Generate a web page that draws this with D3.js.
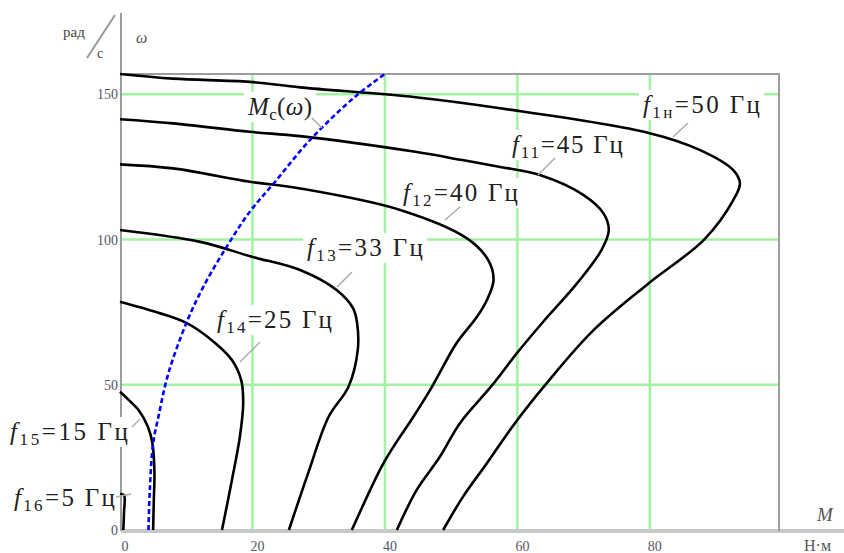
<!DOCTYPE html>
<html>
<head>
<meta charset="utf-8">
<script src="https://cdn.jsdelivr.net/npm/d3@7"></script>
<style>
  html, body { margin: 0; padding: 0; background: #fff; }
  svg { display: block; }
</style>
</head>
<body>
<div id="chart"></div>
<script>
// ── Data (M, Н·м ; ω, рад/с) ──────────────────────────────────────────────
const freqSubs = ["1н", "11", "12", "13", "14", "15", "16"];
const freqHz = [50, 45, 40, 33, 25, 15, 5];

const char50 = [[0,157],[8,155.4],[19.6,154.3],[27.2,152.4],[44.6,149],[57.4,145.2],[79.7,136.8],[87.6,130.8],[92.6,123.9],[93.6,119.3],[92.6,113.6],[88.2,100],[79.8,84.9],[71.5,68.8],[64.4,50.5],[59.6,36.7],[55.4,23],[51.8,11.5],[48.8,0]];
const char45 = [[0,141.4],[8,140],[19.6,137.1],[27.2,135.6],[44.6,130.2],[51.4,127.5],[57.4,125],[63.4,122.2],[70,115.3],[73,109],[73.8,103.3],[72.7,96.4],[69,84.9],[63.9,71.7],[59.9,60.8],[56.1,49.6],[51.3,36.7],[48.3,25.2],[44.8,13.8],[41.8,0]];
const char40 = [[0,125.9],[8,124.5],[19.6,119.9],[27.2,117.6],[42.3,110.2],[52.4,100.4],[55.6,92.9],[56.4,86.1],[55.4,79.2],[53.9,73.4],[50.8,64.3],[47.1,49.3],[44.3,39],[41.3,28.7],[39.5,21.8],[35,0]];
const char33 = [[0,103.3],[12.1,99.2],[19.9,94.1],[27.2,89.5],[32.7,82.6],[35.2,76.3],[35.8,71.2],[35.9,62],[34.5,49.3],[31.5,39],[28.4,19.5],[25.5,0]];
const char25 = [[0,78.6],[5.8,74.8],[10.1,71.2],[14.4,64.3],[16.9,58.5],[18.3,51.6],[18.6,43.6],[18.1,32.1],[16.9,17.2],[15.4,0]];
const char15 = [[0,47.6],[1.3,44.8],[2.8,41.3],[4.2,35.6],[4.9,29.8],[5.2,20],[5.1,10],[5,0]];
const char5 = [[0,12.4],[0.6,12],[0.6,6],[0.5,0]];
const characteristics = [char50, char45, char40, char33, char25, char15, char5];

const loadMc = [[4.3,0],[4.5,13.8],[5,29.8],[5.8,39],[7.3,53.9],[10.1,71.7],[12.6,83.8],[16.1,97.5],[19.6,109.6],[23.2,119.3],[28.7,134.3],[35.5,149.2],[40,157]];

const xTicks = [0, 20, 40, 60, 80];
const yTicks = [0, 50, 100, 150];
const xGrid = [20, 40, 60, 80];
const yGrid = [50, 100, 150];

// ── Label placement (layout) ──────────────────────────────────────────────
// [left, centreY, width, leaderFrom, leaderTo]
const labelLayout = [
  [643, 105, 117, [688, 123], [673, 137]],
  [512, 145, 111, [555, 158], [538, 175]],
  [403, 193, 115, [460, 207], [445, 220]],
  [307, 248, 116, [352, 272], [337, 287]],
  [217, 320, 115, [260, 342], [240, 362]],
  [10, 432, 118, [132, 427], [140, 419]],
  [14, 498, 101, [116, 497], [131, 494]],
];

// ── SVG ───────────────────────────────────────────────────────────────────
const W = 844, H = 553;
const svg = d3.select("#chart").append("svg")
  .attr("width", W).attr("height", H)
  .style("font-family", "'Liberation Serif', 'DejaVu Serif', serif");

const x = d3.scaleLinear().domain([0, 99.5]).range([120, 779]);
const y = d3.scaleLinear().domain([0, 157]).range([530, 74]);

// ── Grid ──────────────────────────────────────────────────────────────────
const grid = svg.append("g").attr("stroke", "#a3f2a3").attr("stroke-width", 2.5);
grid.selectAll(".gx").data(xGrid).join("line")
  .attr("x1", (d) => x(d)).attr("x2", (d) => x(d))
  .attr("y1", y(157)).attr("y2", y(0));
grid.selectAll(".gy").data(yGrid).join("line")
  .attr("x1", x(0)).attr("x2", x(99.5))
  .attr("y1", (d) => y(d)).attr("y2", (d) => y(d));

// ── Frame / axes ──────────────────────────────────────────────────────────
svg.append("line").attr("x1", 121).attr("x2", 844).attr("y1", 531).attr("y2", 531)
  .attr("stroke", "#c8c8c8").attr("stroke-width", 4);
svg.append("line").attr("x1", 121).attr("x2", 121).attr("y1", 13).attr("y2", 531)
  .attr("stroke", "#9c9c9c").attr("stroke-width", 2);
svg.append("path")
  .attr("d", `M121,${y(157)}H${x(99.5)}V531`)
  .attr("fill", "none").attr("stroke", "#9c9c9c").attr("stroke-width", 2);

// ── Tick labels ───────────────────────────────────────────────────────────
svg.append("g").selectAll("text").data(xTicks).join("text")
  .attr("x", (d) => x(d) + 5).attr("y", 551)
  .attr("text-anchor", "middle").attr("font-size", 14).attr("fill", "#556")
  .text((d) => d);
svg.append("g").selectAll("text").data(yTicks).join("text")
  .attr("x", 118).attr("y", (d) => y(d) + 5)
  .attr("text-anchor", "end").attr("font-size", 14).attr("fill", "#556")
  .text((d) => d);

// ── Axis titles ───────────────────────────────────────────────────────────
svg.append("text").attr("x", 63).attr("y", 37).attr("font-size", 15).attr("fill", "#444").text("рад");
svg.append("line").attr("x1", 87).attr("y1", 58).attr("x2", 115).attr("y2", 15)
  .attr("stroke", "#999").attr("stroke-width", 2);
svg.append("text").attr("x", 97).attr("y", 58).attr("font-size", 14).attr("fill", "#444").text("с");
svg.append("text").attr("x", 136).attr("y", 43).attr("font-size", 16).attr("font-style", "italic").attr("fill", "#555").text("ω");
svg.append("text").attr("x", 817).attr("y", 521).attr("font-size", 19).attr("font-style", "italic").attr("fill", "#555").text("M");
svg.append("text").attr("x", 804).attr("y", 551).attr("font-size", 16).attr("fill", "#555").text("Н·м");

// ── Curve labels (white boxes first) ──────────────────────────────────────
const boxLayer = svg.append("g");
const curveLayer = svg.append("g");
const textLayer = svg.append("g");

function addLabel(parts, left, cy, width, from, to) {
  const t = textLayer.append("text")
    .attr("x", left).attr("y", cy + 8)
    .attr("font-size", 25).attr("fill", "#222");
  parts.forEach((p) => {
    const s = t.append("tspan").text(p.text);
    if (p.italic) s.attr("font-style", "italic");
    if (p.sub) s.attr("font-size", 17).attr("dy", 5);
    if (p.back) s.attr("dy", -5);
  });
  t.attr("textLength", width).attr("lengthAdjust", "spacing");
  boxLayer.append("rect")
    .attr("x", left - 4).attr("y", cy - 15)
    .attr("width", width + 8).attr("height", 30)
    .attr("fill", "#fff");
  textLayer.append("line")
    .attr("x1", from[0]).attr("y1", from[1]).attr("x2", to[0]).attr("y2", to[1])
    .attr("stroke", "#aaa").attr("stroke-width", 1.5);
}

freqSubs.forEach((sub, i) => {
  const [left, cy, width, from, to] = labelLayout[i];
  addLabel([
    { text: "f", italic: true },
    { text: sub, sub: true },
    { text: "=" + freqHz[i] + " Гц", back: true },
  ], left, cy, width, from, to);
});

addLabel([
  { text: "M", italic: true },
  { text: "c", sub: true },
  { text: "(", back: true },
  { text: "ω", italic: true },
  { text: ")" },
], 248, 107, 64, [312, 118], [322, 128]);

// ── Curves ────────────────────────────────────────────────────────────────
const line = d3.line()
  .x((d) => x(d[0]))
  .y((d) => y(d[1]))
  .curve(d3.curveCatmullRom.alpha(0.5));

curveLayer.selectAll(".char").data(characteristics).join("path")
  .attr("class", "char")
  .attr("d", line)
  .attr("fill", "none")
  .attr("stroke", "#000")
  .attr("stroke-width", 2.6);

curveLayer.append("path")
  .attr("d", line(loadMc))
  .attr("fill", "none")
  .attr("stroke", "#0000ff")
  .attr("stroke-width", 2.6)
  .attr("stroke-dasharray", "5,3");
</script>
</body>
</html>
